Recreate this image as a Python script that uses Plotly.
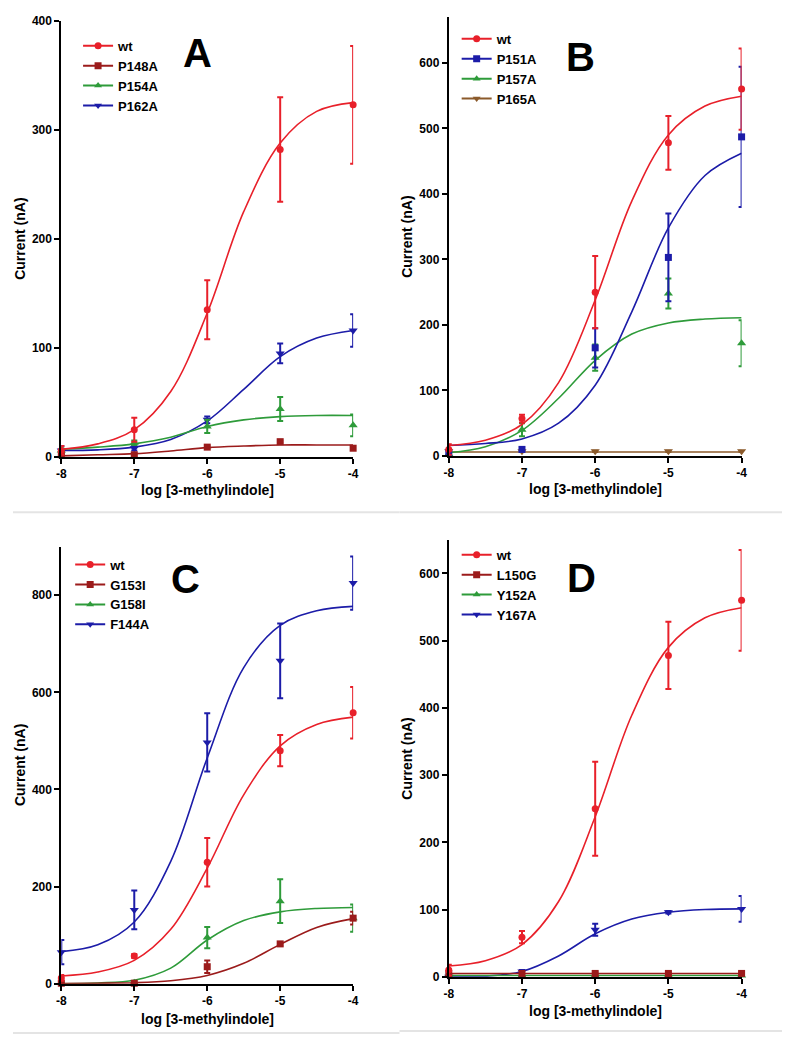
import plotly.graph_objects as go

# ---------------- data ----------------
x_dose = [-8, -7, -6, -5, -4]
x_fit = [-8, -7.5, -7, -6.5, -6, -5.5, -5, -4.5, -4]
x_tick_vals = [-8, -7, -6, -5, -4]
x_tick_text = ["-8", "-7", "-6", "-5", "-4"]

# Panel A
A_names = ["wt", "P148A", "P154A", "P162A"]
A_wt_mean = [6, 25, 135, 282, 323]
A_wt_err = [4, 11, 27, 48, 54]
A_wt_fit = [7, 12, 25, 60, 132, 225, 288, 317, 325]
A_p148_mean = [2, 2, 9, 14, 8]
A_p148_err = [1, 1, 1, 1, 1]
A_p148_fit = [1, 2, 3, 5.5, 8.5, 10, 11, 11, 11]
A_p154_mean = [6, 13, 28, 44, 29]
A_p154_err = [2, 2, 6, 11, 10]
A_p154_fit = [7, 9, 12, 18, 28, 34, 37, 38, 38]
A_p162_mean = [6, 8, 34, 95, 116]
A_p162_err = [4, 2, 3, 9, 15]
A_p162_fit = [6, 6.5, 9, 16, 33, 62, 92, 109, 116]
A_y_ticks = [0, 100, 200, 300, 400]

# Panel B
B_names = ["wt", "P151A", "P157A", "P165A"]
B_wt_mean = [10, 57, 250, 478, 560]
B_wt_err = [8, 6, 55, 41, 62]
B_wt_fit = [16, 24, 48, 112, 238, 389, 490, 534, 549]
B_p151_mean = [5, 10, 165, 303, 487]
B_p151_err = [3, 3, 30, 67, 107]
B_p151_fit = [16, 19, 26, 50, 108, 220, 348, 428, 462]
B_p157_mean = [3, 40, 150, 248, 172]
B_p157_err = [3, 10, 20, 23, 35]
B_p157_fit = [5, 14, 39, 88, 146, 186, 203, 209, 211]
B_p165_mean = [7, 7, 7, 7, 7]
B_p165_err = [1, 1, 1, 1, 1]
B_p165_fit = [6, 6, 6, 6, 6, 6, 6, 6, 6]
B_y_ticks = [0, 100, 200, 300, 400, 500, 600]

# Panel C
C_names = ["wt", "G153I", "G158I", "F144A"]
C_wt_mean = [12, 57, 250, 480, 558]
C_wt_err = [6, 4, 50, 32, 53]
C_wt_fit = [16, 24, 48, 112, 238, 389, 490, 534, 549]
C_g153_mean = [1, 1, 35, 82, 135]
C_g153_err = [1, 1, 13, 4, 13]
C_g153_fit = [0.5, 1, 2, 6, 17, 42, 81, 116, 134]
C_g158_mean = [2, 2, 95, 170, 135]
C_g158_err = [1, 1, 22, 45, 28]
C_g158_fit = [0, 1.5, 7, 32, 90, 130, 148, 155, 157]
C_f144_mean = [65, 152, 497, 665, 825]
C_f144_err = [25, 40, 60, 77, 55]
C_f144_fit = [66, 80, 127, 252, 465, 651, 738, 768, 777]
C_y_ticks = [0, 200, 400, 600, 800]

# Panel D
D_names = ["wt", "L150G", "Y152A", "Y167A"]
D_wt_mean = [10, 59, 250, 478, 560]
D_wt_err = [8, 9, 70, 50, 75]
D_wt_fit = [16, 24, 48, 112, 238, 389, 490, 534, 549]
D_l150_mean = [5, 5, 5, 5, 5]
D_l150_err = [2, 2, 2, 2, 2]
D_l150_fit = [5, 5, 5, 5, 5, 5, 5, 5, 5]
D_y152_mean = [2, 2, 2, 2, 2]
D_y152_err = [1, 1, 1, 1, 1]
D_y152_fit = [2, 2, 2, 2, 2, 2, 2, 2, 2]
D_y167_mean = [0, 8, 70, 96, 101]
D_y167_err = [1, 2, 9, 2, 19]
D_y167_fit = [0, 1, 8, 31, 64, 86, 96, 100, 101]
D_y_ticks = [0, 100, 200, 300, 400, 500, 600]

# ---------------- styling ----------------
PAGE_MARGIN = 8          # default body margin of the html page
W, H = 797 - 2 * PAGE_MARGIN, 1050 - 2 * PAGE_MARGIN
FONT = "Liberation Sans, Arial, sans-serif"
RED = "#e8202a"
DRED = "#9b1b1b"
GREEN = "#2e9b3a"
BLUE = "#1c1ca8"
BROWN = "#8b5a2b"
SYMS = ["circle", "square", "triangle-up", "triangle-down"]


def px_x(p):
    return (p - PAGE_MARGIN) / W


def px_y(p):
    return 1 - (p - PAGE_MARGIN) / H


panels = [
    dict(key="A", ax="", names=A_names, colors=[RED, DRED, GREEN, BLUE],
         means=[A_wt_mean, A_p148_mean, A_p154_mean, A_p162_mean],
         errs=[A_wt_err, A_p148_err, A_p154_err, A_p162_err],
         fits=[A_wt_fit, A_p148_fit, A_p154_fit, A_p162_fit],
         xpx=(57, 353), ypx=(14, 456), yrange=[0, 400], yticks=A_y_ticks,
         legend=(118, 42), letter=(195, 54), xtitle_y=490),
    dict(key="B", ax="2", names=B_names, colors=[RED, BLUE, GREEN, BROWN],
         means=[B_wt_mean, B_p151_mean, B_p157_mean, B_p165_mean],
         errs=[B_wt_err, B_p151_err, B_p157_err, B_p165_err],
         fits=[B_wt_fit, B_p151_fit, B_p157_fit, B_p165_fit],
         xpx=(450, 747), ypx=(10, 455), yrange=[0, 670], yticks=B_y_ticks,
         legend=(502, 35), letter=(584, 58), xtitle_y=489),
    dict(key="C", ax="3", names=C_names, colors=[RED, DRED, GREEN, BLUE],
         means=[C_wt_mean, C_g153_mean, C_g158_mean, C_f144_mean],
         errs=[C_wt_err, C_g153_err, C_g158_err, C_f144_err],
         fits=[C_wt_fit, C_g153_fit, C_g158_fit, C_f144_fit],
         xpx=(57, 353), ypx=(547, 990), yrange=[0, 900], yticks=C_y_ticks,
         legend=(110, 568), letter=(183, 587), xtitle_y=1026),
    dict(key="D", ax="4", names=D_names, colors=[RED, DRED, GREEN, BLUE],
         means=[D_wt_mean, D_l150_mean, D_y152_mean, D_y167_mean],
         errs=[D_wt_err, D_l150_err, D_y152_err, D_y167_err],
         fits=[D_wt_fit, D_l150_fit, D_y152_fit, D_y167_fit],
         xpx=(450, 747), ypx=(540, 983), yrange=[0, 650], yticks=D_y_ticks,
         legend=(502, 558), letter=(585, 586), xtitle_y=1018),
]

fig = go.Figure()
layout = dict(
    width=W, height=H, margin=dict(l=0, r=0, t=0, b=0),
    paper_bgcolor="white", plot_bgcolor="white",
    font=dict(family=FONT, color="black"),
    annotations=[], shapes=[],
)

for i, p in enumerate(panels):
    xa = "x" + p["ax"]
    ya = "y" + p["ax"]
    lg = "legend" if i == 0 else "legend%d" % (i + 1)
    order = [3, 2, 1, 0]  # wt drawn last (on top)
    for j in order:
        c = p["colors"][j]
        fig.add_trace(go.Scatter(
            x=x_fit, y=p["fits"][j], mode="lines", xaxis=xa, yaxis=ya,
            line=dict(color=c, width=1.6, shape="spline", smoothing=1.0),
            showlegend=False, hoverinfo="skip", legend=lg))
        fig.add_trace(go.Scatter(
            x=x_dose, y=p["means"][j], mode="markers", xaxis=xa, yaxis=ya,
            marker=dict(color=c, size=7 if j < 2 else 8, symbol=SYMS[j]),
            error_y=dict(type="data", array=p["errs"][j], color=c,
                         thickness=2, width=3),
            cliponaxis=False, showlegend=False, legend=lg))
    for j in range(4):
        c = p["colors"][j]
        fig.add_trace(go.Scatter(
            x=[None], y=[None], mode="lines+markers", name=p["names"][j],
            xaxis=xa, yaxis=ya, legend=lg,
            line=dict(color=c, width=2),
            marker=dict(color=c, size=7, symbol=SYMS[j])))

    xname = "xaxis" + p["ax"]
    yname = "yaxis" + p["ax"]
    layout[xname] = dict(
        domain=[px_x(p["xpx"][0]), px_x(p["xpx"][1])], anchor=ya,
        range=[-8, -4], tickvals=x_tick_vals, ticktext=x_tick_text,
        showline=True, linewidth=2, linecolor="black", ticks="outside",
        ticklen=5, tickwidth=2, tickcolor="black", showgrid=False,
        zeroline=False, ticklabeloverflow="allow",
        tickfont=dict(size=12, weight="bold", family=FONT))
    layout[yname] = dict(
        domain=[px_y(p["ypx"][1]), px_y(p["ypx"][0])], anchor=xa,
        range=p["yrange"], tickvals=p["yticks"],
        showline=True, linewidth=2, linecolor="black", ticks="outside",
        ticklen=5, tickwidth=2, tickcolor="black", showgrid=False,
        zeroline=False, ticklabeloverflow="allow",
        tickfont=dict(size=12, weight="bold", family=FONT))
    lx, ly = p["legend"]
    layout[lg] = dict(
        x=px_x(lx - 44), y=px_y(ly - 18), xanchor="left", yanchor="top",
        xref="paper", yref="paper", bgcolor="rgba(0,0,0,0)",
        font=dict(size=13, weight="bold", family=FONT),
        tracegroupgap=0)
    layout["annotations"].append(dict(
        text=p["key"], x=px_x(p["letter"][0]), y=px_y(p["letter"][1] - 7),
        xref="paper", yref="paper", xanchor="center", yanchor="middle",
        showarrow=False, font=dict(size=40, weight="bold", family=FONT)))
    layout["annotations"].append(dict(
        text="log [3-methylindole]",
        x=px_x((p["xpx"][0] + p["xpx"][1]) / 2), y=px_y(p["xtitle_y"]),
        xref="paper", yref="paper", xanchor="center", yanchor="middle",
        showarrow=False, font=dict(size=14, weight="bold", family=FONT)))
    layout["annotations"].append(dict(
        text="Current (nA)", textangle=-90,
        x=px_x(p["xpx"][0] - 42), y=px_y((p["ypx"][0] + p["ypx"][1]) / 2),
        xref="paper", yref="paper", xanchor="center", yanchor="middle",
        showarrow=False, font=dict(size=14, weight="bold", family=FONT)))

for yy, x0, x1 in [(512, 8, 400), (512, 400, 788), (1040, 8, 400), (1038, 400, 788)]:
    layout["shapes"].append(dict(
        type="line", xref="paper", yref="paper",
        x0=px_x(x0), x1=px_x(x1), y0=px_y(yy), y1=px_y(yy),
        line=dict(color="#e4e4e4", width=2)))

fig.update_layout(**layout)
fig.write_html("out.html")
